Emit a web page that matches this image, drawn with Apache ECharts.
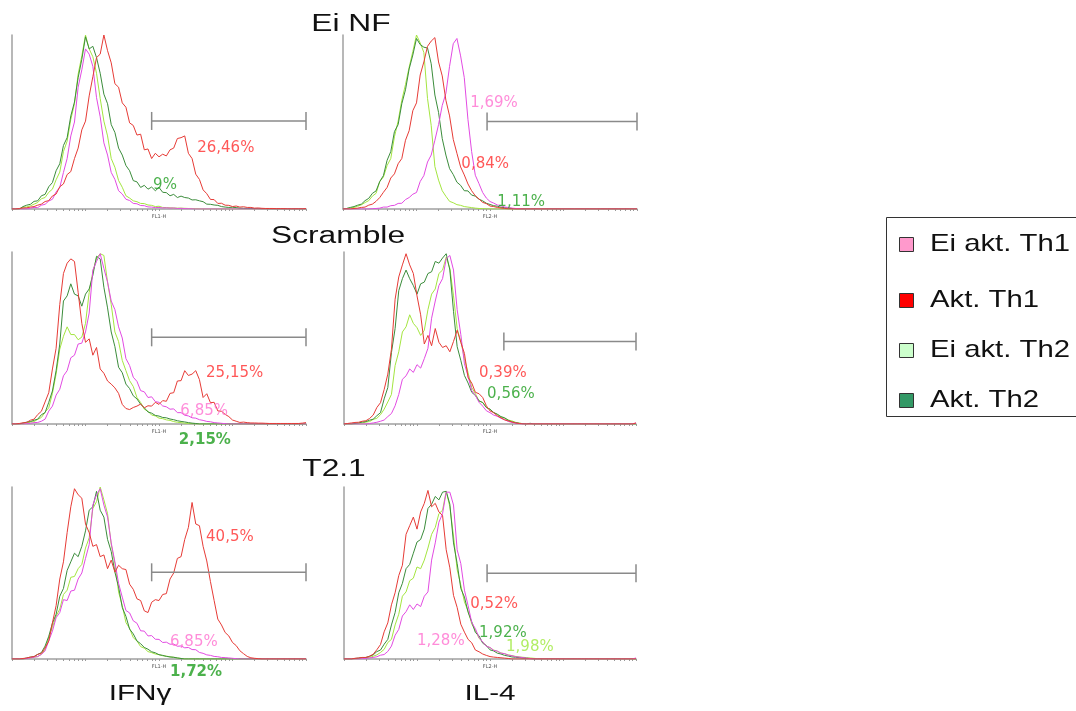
<!DOCTYPE html>
<html>
<head>
<meta charset="utf-8">
<script src="https://cdn.jsdelivr.net/npm/echarts@6/dist/echarts.min.js"></script>
<style>
  html, body { margin: 0; padding: 0; background: #ffffff; }
  #chart { width: 1076px; height: 711px; }
</style>
</head>
<body>
<div id="chart"></div>
<script>
// ---- Histogram bins: 81 channels across 4 log decades ----
const binCount = 81;
const binWidth = 0.05; // decades per channel bin
const decadeCount = 4;

// Population names (legend order)
const seriesNames = ['Ei akt. Th1', 'Akt. Th1', 'Ei akt. Th2', 'Akt. Th2'];

// Row titles and column titles
const rowTitles = ['Ei NF', 'Scramble', 'T2.1'];
const columnTitles = ['IFNγ', 'IL-4'];
const channelNames = ['FL1-H', 'FL2-H'];

// Log axis tick multipliers within each decade
const tickMultipliers = [1, 2, 3, 4, 5, 6, 7, 8, 9];

// ---- Event counts (% of panel maximum) per channel bin ----
// Ei NF, IFNγ
const nfIfnEiTh1 = [
  0, 0, 0, 0, 0, 0.5, 0.9, 0.8, 2.2, 2.7,
  4.6, 5.6, 9.8, 12.4, 21, 29, 42, 50, 70, 80,
  92, 89, 82, 64, 53, 38, 31, 21, 17, 10.5,
  8.6, 5.6, 4.9, 3.2, 3, 2, 1.9, 1.2, 1.1, 0.8,
  0.9, 0.6, 0.7, 0.5, 0.6, 0.3, 0.4, 0.2, 0.2, 0.1,
  0, 0, 0, 0, 0, 0, 0, 0, 0, 0,
  0, 0, 0, 0, 0, 0, 0, 0, 0, 0,
  0, 0, 0, 0, 0, 0, 0, 0, 0, 0,
  0];
const nfIfnTh1 = [
  0, 0, 0.3, 0.6, 0.7, 1.1, 1.4, 2.2, 2.8, 4.3,
  4.8, 7.5, 8.6, 12.8, 14.4, 19.8, 21.5, 29, 35, 45.5,
  50.5, 65, 76, 87, 89, 100, 91, 84, 72, 70,
  61, 58.5, 49.5, 48, 42.5, 43, 34, 34.5, 29, 32,
  30, 31.5, 30.5, 34, 35, 40.5, 41, 42, 32, 29,
  20, 17, 11, 8.8, 5.5, 5.4, 3.2, 3.3, 2.2, 2.1,
  1.4, 1.7, 1.1, 1.3, 0.9, 0.9, 0.5, 0.6, 0.4, 0.3,
  0.3, 0.3, 0.2, 0.2, 0.2, 0.1, 0.1, 0.1, 0.1, 0.1,
  0.2];
const nfIfnEiTh2 = [
  0, 0, 0, 1, 1.2, 1.8, 2.8, 3.7, 5.9, 6.6,
  9.6, 11.4, 16.8, 21.2, 33, 39, 51.5, 60.5, 77.5, 88,
  100, 92, 87.5, 78, 63.5, 50.5, 42, 29, 24, 16.4,
  12.5, 7.6, 6.3, 4.7, 4.2, 3.2, 3.1, 2.3, 2.1, 1.4,
  1.6, 0.9, 0.8, 0.7, 0.6, 0.5, 0.5, 0.4, 0.3, 0.3,
  0.2, 0.1, 0, 0, 0, 0, 0, 0, 0, 0,
  0, 0, 0, 0, 0, 0, 0, 0, 0, 0,
  0, 0, 0, 0, 0, 0, 0, 0, 0, 0,
  0];
const nfIfnTh2 = [
  0, 0, 0, 1.4, 2.2, 2.7, 4.4, 4.7, 7.6, 8.4,
  12.8, 15.2, 22, 26, 36.5, 41, 53.5, 61.5, 75.5, 86,
  99, 92, 93.5, 87, 78, 66, 60.5, 48.5, 44, 35,
  31, 25, 22, 16.3, 15.6, 12.4, 13.6, 11.4, 12.6, 10.5,
  12.4, 9.6, 9.4, 7.6, 8.4, 6.6, 7.4, 6.6, 6.3, 5.2,
  5.3, 4.7, 4.2, 2.8, 2.7, 2.3, 2.1, 1.4, 1.1, 0.9,
  1, 0.8, 0.5, 0.4, 0.3, 0.3, 0.2, 0.2, 0.1, 0.1,
  0, 0, 0, 0, 0, 0, 0, 0, 0, 0,
  0];

// Ei NF, IL-4
const nfIl4EiTh1 = [
  0, 0, 0, 0, 0, 0, 0, 0, 0.2, 0.3,
  0.5, 1.1, 1.1, 1.9, 2.1, 3.2, 3.3, 5.4, 6.6, 8.5,
  9.5, 15.8, 19.2, 27, 31, 39.5, 48.5, 59.5, 66.5, 82,
  95, 98, 88, 75.5, 51.5, 33, 19.4, 14.6, 9.5, 6.3,
  4.3, 3.4, 2.3, 1.9, 1.1, 0.9, 0.5, 0.3, 0.2, 0,
  0, 0, 0, 0, 0, 0, 0, 0, 0, 0,
  0, 0, 0, 0, 0, 0, 0, 0, 0, 0,
  0, 0, 0, 0, 0, 0, 0, 0, 0, 0,
  0];
const nfIl4Th1 = [
  0, 0, 0, 0.3, 0.5, 0.9, 1.1, 2.2, 2.8, 4.4,
  6.6, 9.6, 12.4, 17.8, 20.2, 26, 29, 39.5, 45, 56.5,
  61, 77, 84.5, 93.5, 96.5, 98.5, 84.5, 76.5, 62.5, 53.5,
  40, 32, 24.2, 19.6, 14.4, 10.5, 7.6, 5.8, 3.8, 3.1,
  1.7, 1.4, 0.9, 0.6, 0.3, 0, 0, 0, 0, 0,
  0, 0, 0, 0, 0, 0, 0, 0, 0, 0,
  0, 0, 0, 0, 0, 0, 0, 0, 0, 0,
  0, 0, 0, 0, 0, 0, 0, 0, 0, 0,
  0];
const nfIl4EiTh2 = [
  0, 0.3, 0.6, 0.9, 1.6, 2.4, 3.7, 4.8, 7.4, 9,
  15.8, 18.4, 25, 29, 41.5, 50.5, 62.5, 71.5, 81.5, 90.5,
  100, 95.5, 90, 63.5, 48, 24.4, 16.6, 10.5, 7.3, 4.4,
  3.6, 2.5, 2.1, 1.4, 1.1, 0.8, 0.5, 0.3, 0.2, 0.1,
  0, 0, 0, 0, 0, 0, 0, 0, 0, 0,
  0, 0, 0, 0, 0, 0, 0, 0, 0, 0,
  0, 0, 0, 0, 0, 0, 0, 0, 0, 0,
  0, 0, 0, 0, 0, 0, 0, 0, 0, 0,
  0];
const nfIl4Th2 = [
  0, 0.3, 0.9, 1.4, 2.2, 2.8, 4.8, 6.1, 9, 10.4,
  15.8, 19.2, 28, 33, 44.5, 48.5, 60.5, 68.5, 80.5, 88.5,
  98, 94.5, 93, 92.5, 83.5, 65.5, 55.5, 40.5, 31, 23.2,
  19.8, 15.4, 13.6, 10.5, 10.4, 8, 7.4, 5.6, 4.7, 3.3,
  2.6, 1.9, 1.6, 1, 0.8, 0.5, 0.3, 0, 0, 0,
  0, 0, 0, 0, 0, 0, 0, 0, 0, 0,
  0, 0, 0, 0, 0, 0, 0, 0, 0, 0,
  0, 0, 0, 0, 0, 0, 0, 0, 0, 0,
  0];

// Scramble, IFNγ
const scIfnEiTh1 = [
  0, 0, 0, 0, 0.2, 0.4, 0.8, 0.9, 1.6, 2.8,
  7.5, 10.4, 16.8, 20.2, 28, 31, 38.5, 40, 46.5, 47,
  53.5, 64.5, 89.5, 94.5, 99, 90.5, 82.5, 71.5, 66.5, 56.5,
  50, 38, 34, 27.2, 24.8, 19.4, 18.7, 15.4, 15.8, 13,
  12.6, 10.5, 10, 8.6, 8.8, 6.6, 6.6, 5.1, 4.7, 3.6,
  3.4, 2.5, 2.1, 1.5, 1.3, 0.8, 0.6, 0.4, 0.2, 0,
  0, 0, 0, 0, 0, 0, 0, 0, 0, 0,
  0, 0, 0, 0, 0, 0, 0, 0, 0, 0,
  0];
const scIfnTh1 = [
  0, 0, 0.3, 0.7, 0.9, 2.2, 2.8, 5.5, 7.4, 12.8,
  18.2, 32, 44, 69.5, 87.5, 93.5, 96, 94.5, 76.5, 58.5,
  47.5, 49.5, 40, 44.5, 32, 29.5, 25, 23.2, 21, 17.8,
  11.4, 9, 8.4, 9.6, 10.4, 11.6, 9.4, 10.6, 10.4, 12.6,
  11.4, 13.6, 13.2, 17.8, 18.2, 25, 25.2, 31, 28.2, 29,
  31, 25.8, 15.4, 17.6, 12.4, 12.6, 7.6, 7.4, 5.6, 4.3,
  2.3, 1.6, 0.9, 1.1, 0.8, 0.6, 0.6, 0.5, 0.5, 0.4,
  0.3, 0.3, 0.3, 0.3, 0.3, 0.3, 0.3, 0.3, 0.3, 0.5,
  0.8];
const scIfnEiTh2 = [
  0, 0, 0, 0, 0.5, 1.1, 1.4, 2.7, 3.8, 6.9,
  9.4, 17.8, 29, 43.5, 51, 56.5, 52, 52, 49, 50.5,
  58.5, 76.5, 88.5, 96.5, 99, 98, 82.5, 69.5, 53.5, 48,
  37, 31, 25.2, 21.8, 15.4, 12.5, 8.6, 7.4, 5.2, 4.7,
  3.4, 3.1, 2.4, 2.1, 1.4, 1, 0.8, 0.5, 0.3, 0.1,
  0, 0, 0, 0, 0, 0, 0, 0, 0, 0,
  0, 0, 0, 0, 0, 0, 0, 0, 0, 0,
  0, 0, 0, 0, 0, 0, 0, 0, 0, 0,
  0];
const scIfnTh2 = [
  0, 0, 0, 0.5, 1.1, 1.4, 2.2, 2.8, 5.4, 6.6,
  12.6, 19.2, 31, 46.5, 71.5, 74.5, 81.5, 75.5, 74.5, 68.5,
  75.5, 78.5, 86.5, 97.5, 96, 79.5, 67.5, 53.5, 45, 33,
  29.8, 23.2, 20.6, 16.4, 14.6, 11.5, 9.4, 7, 6.3, 5,
  4.6, 3.8, 3.6, 2.9, 2.5, 1.9, 1.5, 1.2, 0.8, 0.5,
  0.3, 0, 0, 0, 0, 0, 0, 0, 0, 0,
  0, 0, 0, 0, 0, 0, 0, 0, 0, 0,
  0, 0, 0, 0, 0, 0, 0, 0, 0, 0,
  0];

// Scramble, IL-4
const scIl4EiTh1 = [
  0, 0, 0, 0, 0, 0, 0, 0.3, 0.6, 1,
  1.6, 2.3, 4.3, 6.1, 10.6, 17.2, 26, 28, 32, 30,
  34.5, 32.5, 38, 44, 61.5, 71.5, 80.5, 84.5, 96, 98,
  89.5, 66.5, 52, 35, 27.8, 19.4, 16.6, 12.6, 10.4, 7.7,
  6.6, 5.2, 4.5, 3.3, 2.5, 1.5, 0.9, 0.5, 0.2, 0,
  0, 0, 0, 0, 0, 0, 0, 0, 0, 0,
  0, 0, 0, 0, 0, 0, 0, 0, 0, 0,
  0, 0, 0, 0, 0, 0, 0, 0, 0, 0,
  0.6];
const scIl4Th1 = [
  0, 0.3, 0.6, 0.9, 1, 1.6, 1.9, 3.2, 5.2, 9.6,
  12.4, 20, 29, 43.5, 72.5, 85.5, 92.5, 99, 92.5, 87.5,
  74.5, 63.5, 46.5, 51.5, 45.5, 55.5, 47.5, 44.5, 45.5, 42,
  48, 54.5, 47.5, 41, 27, 23.8, 18.4, 17.6, 15.4, 10.6,
  7.6, 6.6, 4.8, 3.6, 2.4, 1.8, 1.2, 0.6, 0.3, 0,
  0, 0, 0, 0, 0, 0, 0, 0, 0, 0,
  0, 0, 0, 0, 0, 0, 0, 0, 0, 0,
  0, 0, 0, 0, 0, 0, 0, 0, 0, 0,
  0.6];
const scIl4EiTh2 = [
  0, 0, 0, 0, 0.3, 0.6, 1.1, 1.4, 2.7, 3.3,
  5.4, 8.6, 12.8, 17.2, 34, 42, 53.5, 56.5, 63.5, 58.5,
  56, 51.5, 54.5, 66.5, 75.5, 78.5, 87.5, 89.5, 97, 90.5,
  74.5, 55.5, 48, 38, 29.8, 21.2, 17.6, 13.4, 12.5, 9.6,
  8.6, 6.5, 5.6, 4, 3.3, 2.3, 1.8, 1, 0.5, 0.2,
  0, 0, 0, 0, 0, 0, 0, 0, 0, 0,
  0, 0, 0, 0, 0, 0, 0, 0, 0, 0,
  0, 0, 0, 0, 0, 0, 0, 0, 0, 0,
  0];
const scIl4Th2 = [
  0, 0, 0, 0.3, 0.6, 1.1, 1.4, 2.2, 2.8, 4.8,
  6.6, 14.6, 21.2, 41.5, 55.5, 77.5, 84.5, 89.5, 84.5, 80.5,
  75.5, 81.5, 82.5, 87.5, 88.5, 94.5, 93.5, 96.5, 99, 89.5,
  65.5, 45, 37, 28.2, 23.8, 18.4, 16.6, 13.4, 12.5, 9.6,
  8.6, 6.7, 5.7, 4.3, 3.6, 2.2, 1.2, 0.8, 0.4, 0.2,
  0, 0.4, 0, 0, 0, 0, 0, 0, 0, 0,
  0, 0, 0, 0, 0, 0, 0, 0, 0, 0,
  0, 0, 0, 0, 0, 0, 0, 0, 0, 0,
  0];

// T2.1, IFNγ
const t2IfnEiTh1 = [
  0, 0, 0, 0, 0.3, 0.6, 1.1, 1.4, 2.7, 4.7,
  10.6, 16.2, 24, 27, 34.5, 34, 39.5, 40, 46.5, 50,
  58.5, 66.5, 89.5, 95.5, 99, 89.5, 82.5, 67.5, 56.5, 44,
  36, 28.2, 26.8, 22.2, 20.8, 16.4, 16.2, 13.4, 13.6, 11.5,
  11.4, 9.6, 9.8, 8.6, 8.7, 7.4, 7.6, 6.5, 6.7, 5.5,
  5.4, 3.8, 3.3, 2.4, 2.1, 1.5, 1.3, 0.9, 0.8, 0.6,
  0.4, 0.2, 0, 0, 0, 0, 0, 0, 0, 0,
  0, 0, 0, 0, 0, 0, 0, 0, 0, 0,
  0];
const t2IfnTh1 = [
  0, 0, 0, 0.3, 0.6, 1.1, 1.4, 2.7, 3.3, 6.4,
  10.4, 21, 31, 46.5, 56.5, 73.5, 88.5, 99, 95.5, 93.5,
  78.5, 73.5, 65.5, 66.5, 59.5, 60.5, 52.5, 57.5, 50.5, 54.5,
  52.5, 52, 43.5, 40.5, 35, 34, 28, 27, 33, 34.5,
  34, 37.5, 38, 46.5, 50, 58.5, 59.5, 69.5, 76.5, 91,
  78.5, 77.5, 65.5, 57, 45, 34, 23.2, 19.8, 15.4, 13.4,
  9.6, 7.8, 4.8, 3.1, 1.5, 0.7, 0.4, 0.2, 0, 0,
  0, 0, 0, 0, 0, 0, 0, 0, 0, 0,
  0];
const t2IfnEiTh2 = [
  0, 0, 0, 0, 0.3, 0.6, 1.1, 1.4, 2.7, 5.6,
  12.6, 18.4, 25, 29, 37.5, 40, 47.5, 48, 52.5, 55,
  64.5, 70.5, 87.5, 91.5, 100, 92.5, 84.5, 66.5, 55.5, 39,
  31, 21.2, 17.8, 12.4, 10.5, 7.2, 6.3, 4.3, 3.7, 2.9,
  2.5, 1.9, 1.7, 1.2, 1, 0.6, 0.3, 0, 0, 0,
  0, 0, 0, 0, 0, 0, 0, 0, 0, 0,
  0, 0, 0, 0, 0, 0, 0, 0, 0, 0,
  0, 0, 0, 0, 0, 0, 0, 0, 0, 0,
  0];
const t2IfnTh2 = [
  0, 0, 0, 0, 0.6, 1.1, 1.4, 2.7, 3.7, 7.5,
  13.2, 20.8, 26, 36.5, 41, 51.5, 56.5, 61.5, 59.5, 65.5,
  74.5, 86.5, 88.5, 97.5, 86.5, 82.5, 69.5, 62.5, 50.5, 42,
  30, 24.8, 17.4, 14.6, 10.5, 8.9, 6.7, 5.7, 4.2, 3.6,
  2.5, 2.1, 1.5, 1.2, 1, 0.6, 0.3, 0, 0, 0,
  0, 0, 0, 0, 0, 0, 0, 0, 0, 0,
  0, 0, 0, 0, 0, 0, 0, 0, 0, 0,
  0, 0, 0, 0, 0, 0, 0, 0, 0, 0,
  0];

// T2.1, IL-4
const t2Il4EiTh1 = [
  0, 0, 0, 0, 0, 0.2, 0.4, 0.6, 0.9, 1.3,
  2.2, 2.6, 4.4, 7.5, 13.8, 17.2, 25, 27.5, 31.5, 28.8,
  32, 30.5, 36.5, 39, 57.5, 67.5, 79.5, 84.5, 97, 97,
  89.5, 63.5, 55.5, 40, 31, 21.2, 17.6, 12.5, 9.9, 7.4,
  6.7, 5, 4.6, 3.4, 3.1, 2.2, 1.9, 1.3, 1.1, 0.8,
  0.5, 0.3, 0, 0, 0, 0, 0, 0, 0, 0,
  0, 0, 0, 0, 0, 0, 0, 0, 0, 0,
  0, 0, 0, 0, 0, 0, 0, 0, 0, 0,
  0.6];
const t2Il4Th1 = [
  0, 0, 0, 0.4, 0.6, 0.9, 0.9, 1.6, 2.8, 5.4,
  8.4, 15.8, 21, 31.5, 38.5, 48.5, 54.5, 72.5, 77.5, 82.5,
  75.5, 85.5, 90.5, 98, 88.5, 90.5, 85.5, 83.5, 63.5, 53,
  37, 30, 20.2, 15.6, 11.4, 9.4, 5.2, 4.2, 2.9, 2.1,
  1.4, 1.1, 0.9, 0.7, 0.5, 0.3, 0, 0, 0, 0,
  0, 0, 0, 0, 0, 0, 0, 0, 0, 0,
  0, 0, 0, 0, 0, 0, 0, 0, 0, 0,
  0, 0, 0, 0, 0, 0, 0, 0, 0, 0,
  0];
const t2Il4EiTh2 = [
  0, 0, 0, 0, 0.3, 0.5, 0.8, 0.9, 1.6, 2.4,
  3.8, 5.6, 9.6, 11.4, 19.8, 26, 36.5, 39, 45.5, 47,
  53.5, 52.5, 57.5, 64.5, 72.5, 76.5, 84.5, 86.5, 97.5, 88.5,
  71.5, 52, 43, 33.2, 27.8, 20.4, 16.6, 12, 9.9, 7.6,
  6.6, 5.2, 4.5, 3.5, 3.1, 2.4, 2, 1.5, 1.2, 1,
  0.8, 0.6, 0.4, 0.2, 0, 0, 0, 0, 0, 0,
  0, 0, 0, 0, 0, 0, 0, 0, 0, 0,
  0, 0, 0, 0, 0, 0, 0, 0, 0, 0,
  0];
const t2Il4Th2 = [
  0, 0, 0, 0.3, 0.5, 0.8, 0.9, 1.6, 2.4, 4.3,
  5.2, 8.6, 11.4, 19.8, 27, 38.5, 44, 52.5, 55, 61.5,
  68, 69.5, 75.5, 87.5, 90, 94.5, 92.5, 97, 97.5, 90,
  67.5, 55.5, 41, 36, 27.2, 21.6, 15.4, 13.5, 9.2, 7.8,
  5.3, 4.7, 3.4, 2.9, 2.1, 1.7, 1.2, 1, 0.8, 0.6,
  0.4, 0.2, 0, 0, 0, 0, 0, 0, 0, 0,
  0, 0, 0, 0, 0, 0, 0, 0, 0, 0,
  0, 0, 0, 0, 0, 0, 0, 0, 0, 0,
  0];

// Curves per panel, in seriesNames order; panels row by row
const panelCurves = [
  [nfIfnEiTh1, nfIfnTh1, nfIfnEiTh2, nfIfnTh2],
  [nfIl4EiTh1, nfIl4Th1, nfIl4EiTh2, nfIl4Th2],
  [scIfnEiTh1, scIfnTh1, scIfnEiTh2, scIfnTh2],
  [scIl4EiTh1, scIl4Th1, scIl4EiTh2, scIl4Th2],
  [t2IfnEiTh1, t2IfnTh1, t2IfnEiTh2, t2IfnTh2],
  [t2Il4EiTh1, t2Il4Th1, t2Il4EiTh2, t2Il4Th2]
];

// Positive gate per panel: start (decades) and bar level
const gateStart = [1.9, 1.96, 1.9, 2.19, 1.9, 1.96];
const gateLevel = [50.6, 50.3, 50.4, 47.9, 50.4, 49.8];

// Percent positive inside the gate, with the population each belongs to
const gatePercents = [
  [['26,46%', 'Akt. Th1'], ['9%', 'Akt. Th2']],
  [['1,69%', 'Ei akt. Th1'], ['0,84%', 'Akt. Th1'], ['1,11%', 'Akt. Th2']],
  [['25,15%', 'Akt. Th1'], ['6,85%', 'Ei akt. Th1'], ['2,15%', 'Akt. Th2']],
  [['0,39%', 'Akt. Th1'], ['0,56%', 'Akt. Th2']],
  [['40,5%', 'Akt. Th1'], ['6,85%', 'Ei akt. Th1'], ['1,72%', 'Akt. Th2']],
  [['0,52%', 'Akt. Th1'], ['1,92%', 'Akt. Th2'], ['1,28%', 'Ei akt. Th1'], ['1,98%', 'Ei akt. Th2']]
];

// ---- Layout and styles ----
const panelGrids = [
  { left: 12,  top: 35,  width: 294, height: 174 },
  { left: 343, top: 35,  width: 294, height: 174 },
  { left: 12,  top: 252, width: 294, height: 172 },
  { left: 344, top: 252, width: 292, height: 172 },
  { left: 12,  top: 487, width: 294, height: 172 },
  { left: 344, top: 487, width: 292, height: 172 }
];
// Where each percentage sits, in the panel's own axis units
const percentAnchors = [
  [[2.52, 35], [1.92, 13.8]],
  [[1.73, 61], [1.61, 25.9], [2.10, 4]],
  [[2.64, 29.7], [2.29, 7.6], [2.27, -9.3]],
  [[1.85, 29.7], [1.96, 17.4]],
  [[2.64, 70.9], [2.15, 9.9], [2.15, -7.6]],
  [[1.73, 32], [1.85, 15.1], [1.0, 10.5], [2.22, 7]]
];
const boldPercents = ['2,15%', '1,72%'];

const lineColors = {
  'Ei akt. Th1': '#e24be2',
  'Akt. Th1': '#e63b36',
  'Ei akt. Th2': '#a4e540',
  'Akt. Th2': '#3b8c3b'
};
const percentColors = {
  'Ei akt. Th1': '#ff6fcf',
  'Akt. Th1': '#ff2d2d',
  'Ei akt. Th2': '#9ee83c',
  'Akt. Th2': '#1f9d1f'
};
const swatchColors = {
  'Ei akt. Th1': '#ff99cc',
  'Akt. Th1': '#ff0000',
  'Ei akt. Th2': '#ccffcc',
  'Akt. Th2': '#339966'
};
const drawOrder = [2, 3, 0, 1];
const axisGrey = '#a0a0a0';
const gateGrey = '#8a8a8a';

// ---- Derived axis helpers ----
const channelDecades = Array.from({ length: binCount }, (_, i) => i * binWidth);
const tickDecades = [];
for (let n = 0; n < decadeCount; n++) {
  tickMultipliers.forEach(m => tickDecades.push(n + Math.log10(m)));
}
tickDecades.push(decadeCount);

const grids = [], xAxes = [], yAxes = [], series = [];

panelGrids.forEach((g, p) => {
  grids.push(Object.assign({ containLabel: false }, g));
  xAxes.push({
    type: 'value', gridIndex: p, min: 0, max: decadeCount,
    name: channelNames[p % 2], nameLocation: 'middle', nameGap: 5,
    nameTextStyle: { fontSize: 5, color: '#555', fontFamily: 'DejaVu Sans' },
    axisLine: { show: true, lineStyle: { color: axisGrey, width: 1.5 } },
    axisTick: { show: true, customValues: tickDecades, length: 2, lineStyle: { color: '#9a9a9a', width: 1 } },
    axisLabel: { show: false },
    splitLine: { show: false }
  });
  yAxes.push({
    type: 'value', gridIndex: p, min: 0, max: 100,
    axisLine: { show: true, lineStyle: { color: axisGrey, width: 1.5 } },
    axisTick: { show: false }, axisLabel: { show: false }, splitLine: { show: false }
  });

  drawOrder.forEach(k => {
    const name = seriesNames[k];
    series.push({
      type: 'line', name, xAxisIndex: p, yAxisIndex: p,
      data: panelCurves[p][k].map((v, i) => [channelDecades[i], v]),
      showSymbol: false, symbol: 'none', silent: true, z: 2,
      lineStyle: { width: 1, color: lineColors[name] },
      itemStyle: { color: lineColors[name] }
    });
  });

  // Gate bar with end whiskers
  series.push({
    type: 'custom', xAxisIndex: p, yAxisIndex: p, clip: false, silent: true, z: 3,
    data: [[gateStart[p], gateLevel[p], decadeCount]],
    renderItem: (params, api) => {
      const a = api.coord([api.value(0), api.value(1)]);
      const b = api.coord([api.value(2), api.value(1)]);
      const h = 9;
      const style = { stroke: gateGrey, lineWidth: 1.5 };
      return {
        type: 'group',
        children: [
          { type: 'line', shape: { x1: a[0], y1: a[1], x2: b[0], y2: b[1] }, style },
          { type: 'line', shape: { x1: a[0], y1: a[1] - h, x2: a[0], y2: a[1] + h }, style },
          { type: 'line', shape: { x1: b[0], y1: b[1] - h, x2: b[0], y2: b[1] + h }, style }
        ]
      };
    }
  });

  // Gate percentages
  series.push({
    type: 'scatter', xAxisIndex: p, yAxisIndex: p, clip: false, silent: true, z: 4,
    symbolSize: 0, itemStyle: { color: 'rgba(0,0,0,0)' },
    label: {
      show: true, position: 'right', distance: 0, formatter: '{b}',
      fontFamily: 'DejaVu Sans', fontSize: 15
    },
    data: gatePercents[p].map(([txt, pop], j) => ({
      name: txt,
      value: percentAnchors[p][j],
      label: {
        color: percentColors[pop],
        fontWeight: boldPercents.includes(txt) ? 'bold' : 'normal'
      }
    }))
  });
});

// ---- Titles and legend drawn as graphic text ----
const titleCenters = [[351, 25], [338, 237], [334, 470]];
const columnCenters = [[140, 694], [490, 694]];
const graphic = [];

rowTitles.forEach((t, i) => {
  graphic.push({
    type: 'text', x: titleCenters[i][0], y: titleCenters[i][1], scaleX: 1.38,
    style: { text: t, x: 0, y: 0, align: 'center', verticalAlign: 'middle',
      font: '23px "Liberation Sans", Arial, sans-serif', fill: '#111' }
  });
});
columnTitles.forEach((t, i) => {
  graphic.push({
    type: 'text', x: columnCenters[i][0], y: columnCenters[i][1], scaleX: 1.35,
    style: { text: t, x: 0, y: 0, align: 'center', verticalAlign: 'middle',
      font: '22px "Liberation Sans", Arial, sans-serif', fill: '#111' }
  });
});

// Legend box
const legendRows = [244, 300, 350, 400];
graphic.push({
  type: 'rect', shape: { x: 886.5, y: 217.5, width: 200, height: 199 },
  style: { fill: '#ffffff', stroke: '#333', lineWidth: 1 }, z: 10
});
seriesNames.forEach((name, i) => {
  graphic.push({
    type: 'rect', shape: { x: 899.5, y: legendRows[i] - 6.5, width: 14, height: 14 },
    style: { fill: swatchColors[name], stroke: '#333', lineWidth: 1 }, z: 11
  });
  graphic.push({
    type: 'text', x: 930, y: legendRows[i], scaleX: 1.22, z: 11,
    style: { text: name, x: 0, y: 0, align: 'left', verticalAlign: 'middle',
      font: '24px "Liberation Sans", Arial, sans-serif', fill: '#111' }
  });
});

const chart = echarts.init(document.getElementById('chart'), null, { renderer: 'canvas' });
chart.setOption({
  animation: false,
  backgroundColor: '#ffffff',
  grid: grids,
  xAxis: xAxes,
  yAxis: yAxes,
  series,
  graphic
});
</script>
</body>
</html>
